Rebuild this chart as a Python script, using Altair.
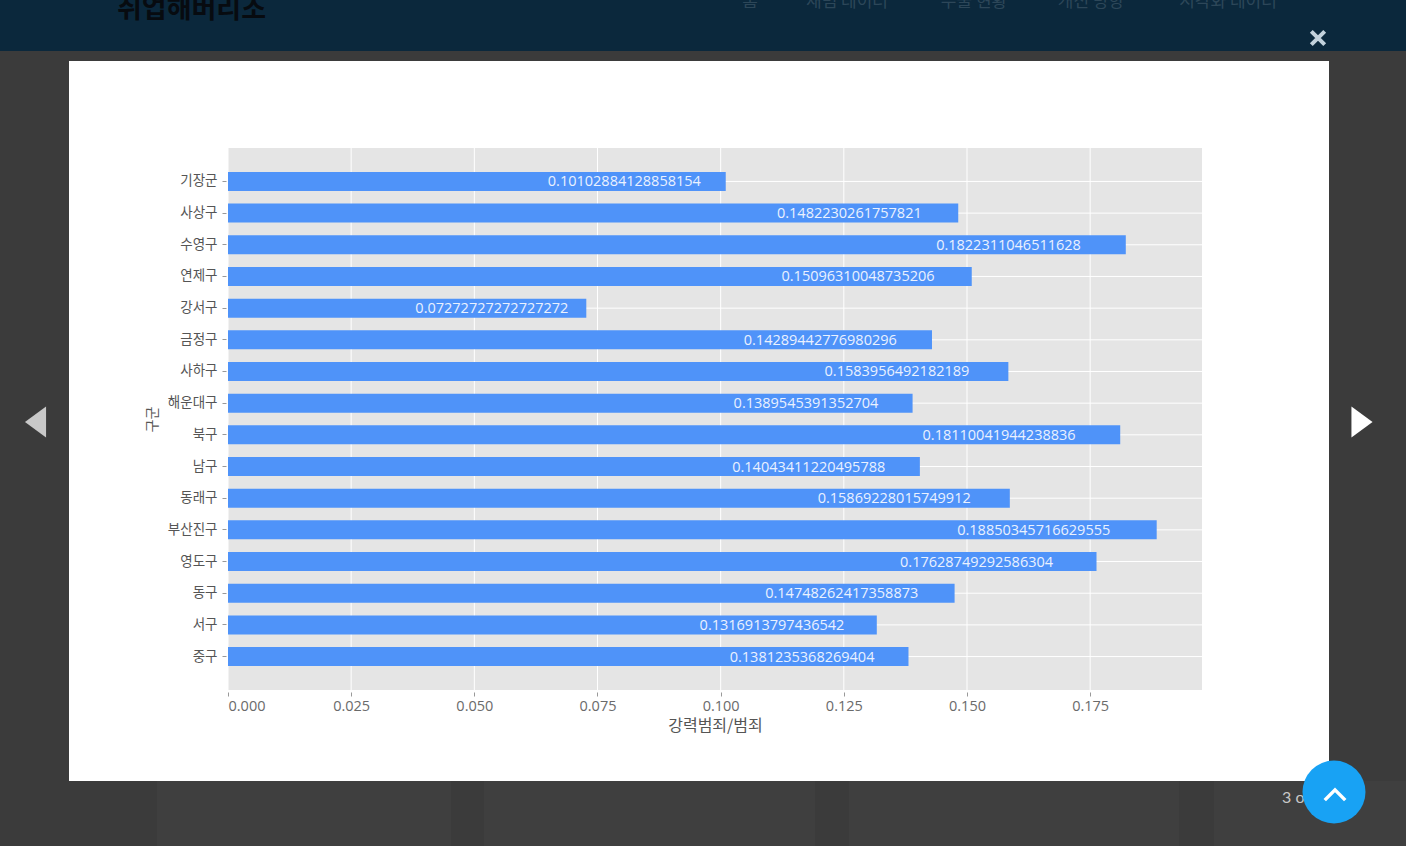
import altair as alt
import pandas as pd

# ---- data ----
districts = ["기장군", "사상구", "수영구", "연제구", "강서구", "금정구", "사하구", "해운대구",
             "북구", "남구", "동래구", "부산진구", "영도구", "동구", "서구", "중구"]
ratios = [0.10102884128858154, 0.1482230261757821, 0.1822311046511628, 0.15096310048735206,
          0.07272727272727272, 0.14289442776980296, 0.1583956492182189, 0.1389545391352704,
          0.18110041944238836, 0.14043411220495788, 0.15869228015749912, 0.18850345716629555,
          0.17628749292586304, 0.14748262417358873, 0.1316913797436542, 0.1381235368269404]
labels = [str(v) for v in ratios]
x_ticks = [0.0, 0.025, 0.05, 0.075, 0.1, 0.125, 0.15, 0.175]

nav_items = ["홈", "재범 데이터", "수술 현황", "개선 방향", "시각화 데이터"]
nav_x = [750, 847, 974, 1091, 1228]

df = pd.DataFrame({"구군": districts, "ratio": ratios, "label": labels})
ticks_df = pd.DataFrame({"ratio": x_ticks})
one = pd.DataFrame({"d": [0]})

# ---- layout (page pixels) ----
L, T, R, B = 228, 148, 1202, 690
W, H = R - L, B - T
PAGE = "#3b3b3b"

KFONT = "Noto Sans CJK KR"
NFONT = "Open Sans"

xscale = alt.Scale(domain=[0, 0.1977], nice=False, zero=True)
yscale = alt.Scale(paddingInner=0.4, paddingOuter=0.756)

xaxis = alt.Axis(values=x_ticks, format=".3f", title="강력범죄/범죄", grid=False,
                 domain=False, tickSize=4, offset=2, tickColor="#999999",
                 labelPadding=3, labelFont=NFONT, labelFontSize=14.5,
                 labelColor="#6a6a6a", titleFont=KFONT, titleFontSize=16,
                 titleFontWeight="normal", titleColor="#555555", titlePadding=5, zindex=1)
yaxis = alt.Axis(title="구군", grid=False, domain=False, tickSize=4, offset=2,
                 tickColor="#999999", labelPadding=5, labelFont=KFONT,
                 labelFontSize=13.5, labelColor="#555555", titleFont=KFONT,
                 titleFontSize=14, titleFontWeight="normal", titleColor="#555555",
                 titlePadding=8, zindex=1)

X = lambda f: alt.X(f, type="quantitative", scale=xscale, axis=xaxis, title="강력범죄/범죄")
Y = alt.Y("구군:N", sort=districts, scale=yscale, axis=yaxis, title="구군")


def px(v):
    return alt.value(v - L)


def py(v):
    return alt.value(v - T)


def rect(x1, x2, y1, y2, color):
    return alt.Chart(one).mark_rect(color=color, strokeWidth=0).encode(
        x=px(x1), x2=px(x2), y=py(y1), y2=py(y2))


def text(s, x, y, **kw):
    return alt.Chart(one).mark_text(text=s, **kw).encode(x=px(x), y=py(y))


layers = []
# grid lines (plot area fill is the view fill)
vgrid = alt.Chart(ticks_df).mark_rule(color="#ffffff", strokeWidth=1).encode(
    x=X("ratio"), y=alt.value(0), y2=alt.value(H))
hgrid = alt.Chart(df).mark_rule(color="#ffffff", strokeWidth=1).encode(
    y=Y, x=alt.value(0), x2=alt.value(W))
bars = alt.Chart(df).mark_bar(color="#4f93f9").encode(x=X("ratio"), y=Y)
labels_layer = alt.Chart(df).transform_calculate(tx="datum.ratio * 0.95").mark_text(
    align="right", baseline="middle", font=NFONT, fontSize=14.5, color="#eaf1ff", dy=1).encode(
    x=X("tx"), y=Y, text="label:N")
layers += [vgrid, hgrid, bars, labels_layer]

# dark page around the white lightbox panel (panel = chart background)
layers.append(rect(0, 1406, 0, 61, PAGE))
layers.append(rect(0, 69, 61, 781, PAGE))
layers.append(rect(1329, 1406, 61, 781, PAGE))
layers.append(rect(0, 1406, 781, 846, PAGE))
# header
layers.append(rect(0, 1406, 0, 51, "#0b283c"))
layers.append(text("취업해버리조", 117, 24, align="left", baseline="bottom", font=KFONT,
                   fontSize=27, fontWeight="bold", color="#070b10"))
for s, xx in zip(nav_items, nav_x):
    layers.append(text(s, xx, 11, align="center", baseline="bottom", font=KFONT,
                       fontSize=17, color="#2d4759"))
# thumbnails behind the lightbox
for a, b in [(157, 451), (484, 815), (849, 1179), (1214, 1406)]:
    layers.append(rect(a, b, 781, 846, "#3f3f3f"))
# close cross
layers.append(alt.Chart(one).mark_point(
    shape="M -1 -1 L 1 1 M 1 -1 L -1 1", size=180, filled=False, stroke="#c3d2dc",
    strokeWidth=4, opacity=1).encode(x=px(1318), y=py(38)))

# navigation arrows
tri_left = "M 0.68 -1 L -0.68 0 L 0.68 1 Z"
tri_right = "M -0.68 -1 L 0.68 0 L -0.68 1 Z"
layers.append(alt.Chart(one).mark_point(shape=tri_left, size=961, filled=True,
                                        color="#c8c8c8", opacity=1).encode(x=px(35.5), y=py(422)))
layers.append(alt.Chart(one).mark_point(shape=tri_right, size=961, filled=True,
                                        color="#ffffff", opacity=1).encode(x=px(1362), y=py(422)))
# counter and scroll-top button
layers.append(text("3 of 3", 1282, 798, align="left", baseline="middle", font="Lato",
                   fontSize=16, color="#c8c8c8"))
layers.append(alt.Chart(one).mark_point(shape="circle", size=3969, filled=True,
                                        color="#18a2f4", opacity=1).encode(x=px(1334), y=py(792)))
layers.append(alt.Chart(one).mark_point(shape="M -1 0.5 L 0 -0.5 L 1 0.5", size=420,
                                        filled=False, stroke="#ffffff", strokeWidth=3.5,
                                        opacity=1).encode(x=px(1335), y=py(795)))

chart = alt.layer(*layers).properties(
    width=W, height=H,
    autosize=alt.AutoSizeParams(type="none"),
    padding={"left": L, "top": T, "right": 1406 - R, "bottom": 846 - B},
    background="#ffffff",
).configure_view(stroke=None, fill="#e5e5e5")

chart.save("out.html", embed_options={"renderer": "svg", "actions": False})
